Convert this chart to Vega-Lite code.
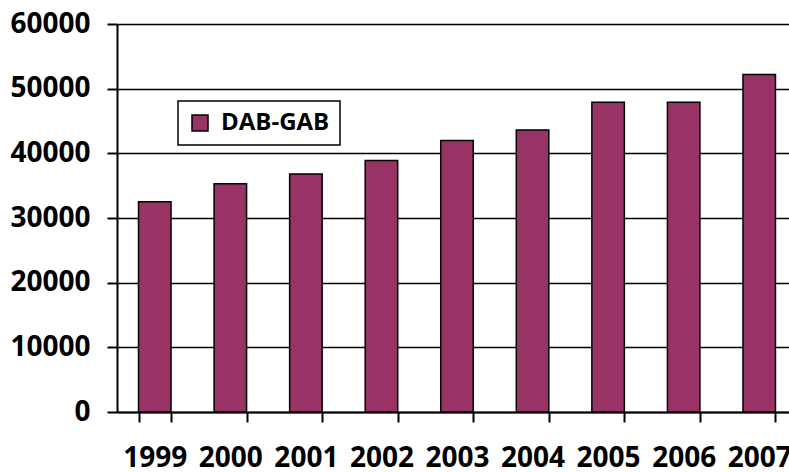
{
  "$schema": "https://vega.github.io/schema/vega-lite/v6.json",
  "width": 680,
  "height": 388,
  "autosize": {"type": "none"},
  "padding": {"left": 117, "top": 24, "right": 0, "bottom": 60},
  "background": "white",
  "data": {
    "values": [
      {"year": "1999", "value": 32500, "series": "DAB-GAB"},
      {"year": "2000", "value": 35300, "series": "DAB-GAB"},
      {"year": "2001", "value": 36800, "series": "DAB-GAB"},
      {"year": "2002", "value": 38900, "series": "DAB-GAB"},
      {"year": "2003", "value": 42000, "series": "DAB-GAB"},
      {"year": "2004", "value": 43600, "series": "DAB-GAB"},
      {"year": "2005", "value": 47900, "series": "DAB-GAB"},
      {"year": "2006", "value": 47900, "series": "DAB-GAB"},
      {"year": "2007", "value": 52200, "series": "DAB-GAB"}
    ]
  },
  "config": {
    "view": {"stroke": null},
    "font": "Open Sans"
  },
  "mark": {"type": "bar", "stroke": "black", "strokeWidth": 1.5},
  "encoding": {
    "x": {
      "field": "year",
      "type": "ordinal",
      "scale": {"paddingInner": 0.57, "paddingOuter": 0.285},
      "axis": {
        "title": null,
        "labelAngle": 0,
        "labelFont": "Open Sans",
        "labelFontSize": 28,
        "labelFontWeight": "bold",
        "labelColor": "black",
        "labelPadding": 22,
        "tickBand": "extent",
        "tickSize": 10,
        "tickColor": "black",
        "tickWidth": 2,
        "domainColor": "black",
        "domainWidth": 2,
        "grid": false
      }
    },
    "y": {
      "field": "value",
      "type": "quantitative",
      "scale": {"domain": [0, 60000], "nice": false},
      "axis": {
        "title": null,
        "values": [0, 10000, 20000, 30000, 40000, 50000, 60000],
        "format": "d",
        "labelFont": "Open Sans",
        "labelFontSize": 28,
        "labelFontWeight": "bold",
        "labelColor": "black",
        "labelPadding": 17,
        "tickSize": 10,
        "tickColor": "black",
        "tickWidth": 2,
        "domainColor": "black",
        "domainWidth": 2,
        "grid": true,
        "gridColor": "black",
        "gridWidth": 1.5,
        "gridOpacity": 1
      }
    },
    "color": {
      "field": "series",
      "type": "nominal",
      "scale": {"range": ["#993366"]},
      "legend": {
        "title": null,
        "orient": "none",
        "legendX": 61,
        "legendY": 77,
        "direction": "vertical",
        "fillColor": "white",
        "strokeColor": "black",
        "padding": 10,
        "symbolType": "square",
        "symbolSize": 256,
        "symbolStrokeColor": "black",
        "symbolStrokeWidth": 1.5,
        "symbolOpacity": 1,
        "labelFont": "Open Sans",
        "labelFontSize": 24,
        "labelFontWeight": "bold",
        "labelColor": "black",
        "labelOffset": 9,
        "encode": {"legend": {"update": {"strokeWidth": {"value": 1.5}}}}
      }
    }
  }
}
